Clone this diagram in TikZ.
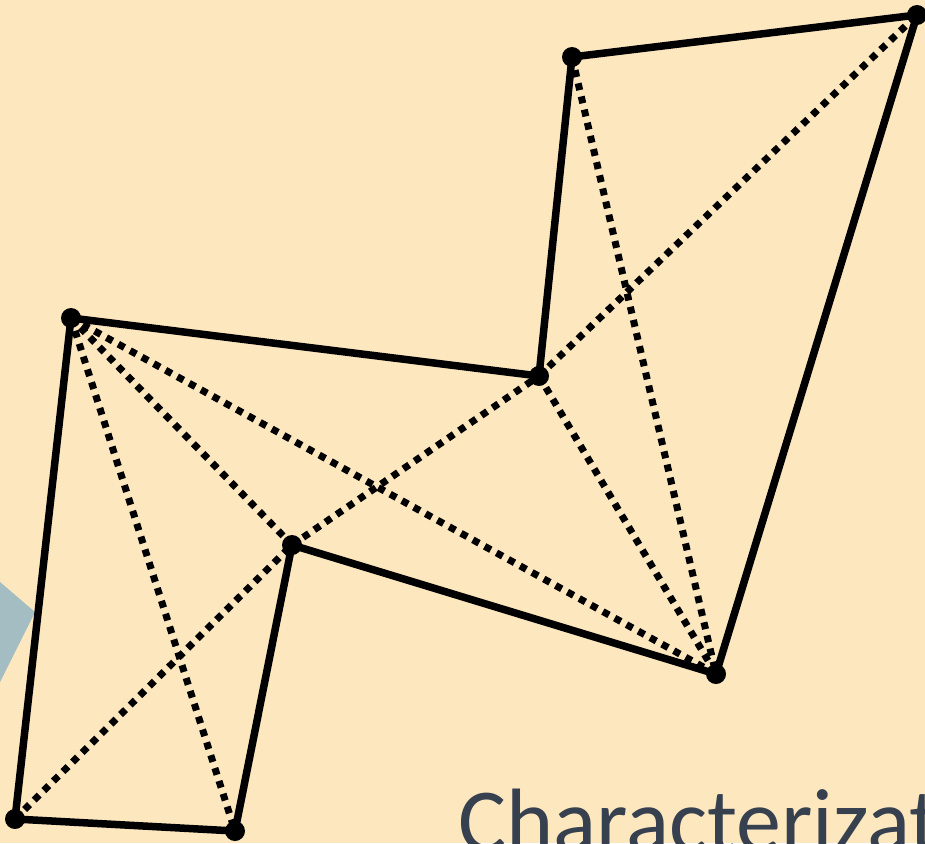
\documentclass[tikz,border=0pt]{standalone}
\usepackage{fontspec}
\usepackage{xcolor}
\usepackage{tikz}
\newfontfamily\titlefont{Carlito}
\definecolor{cream}{HTML}{FDE7BE}
\definecolor{slate}{HTML}{36404F}
\definecolor{chevron}{HTML}{A4BDC3}

\begin{document}
\begin{tikzpicture}[x=1pt, y=-1pt,
  edge/.style={line width=7.5pt, line join=round, line cap=round},
  diag/.style={line width=7pt, dash pattern=on 7pt off 6.5pt}]
\useasboundingbox (0,0) rectangle (925,843);
\fill[cream] (0,0) rectangle (925,843);
% arrow tip of the slide behind
\fill[chevron] (0,582) -- (35,612) -- (0,682) -- cycle;

% corners of the polygon
\coordinate (a) at (71,318);
\coordinate (b) at (539,376);
\coordinate (c) at (572,57);
\coordinate (d) at (917,15);
\coordinate (e) at (716,674);
\coordinate (f) at (292,545);
\coordinate (g) at (235,831);
\coordinate (h) at (15,819);

% diagonals
\foreach \u/\v in {a/g, a/f, a/e, h/f, f/b, b/e, c/e, b/d}
  \draw[diag] (\u) -- (\v);

% outline
\draw[edge] (a) -- (b) -- (c) -- (d) -- (e) -- (f) -- (g) -- (h) -- cycle;

\foreach \v in {a,...,h}
  \fill (\v) circle (10pt);

\node[anchor=base west, inner sep=0pt, text=slate, font=\titlefont\fontsize{90}{100}\selectfont] (caption) at (458,851) {Characterizat};
\end{tikzpicture}
\end{document}
